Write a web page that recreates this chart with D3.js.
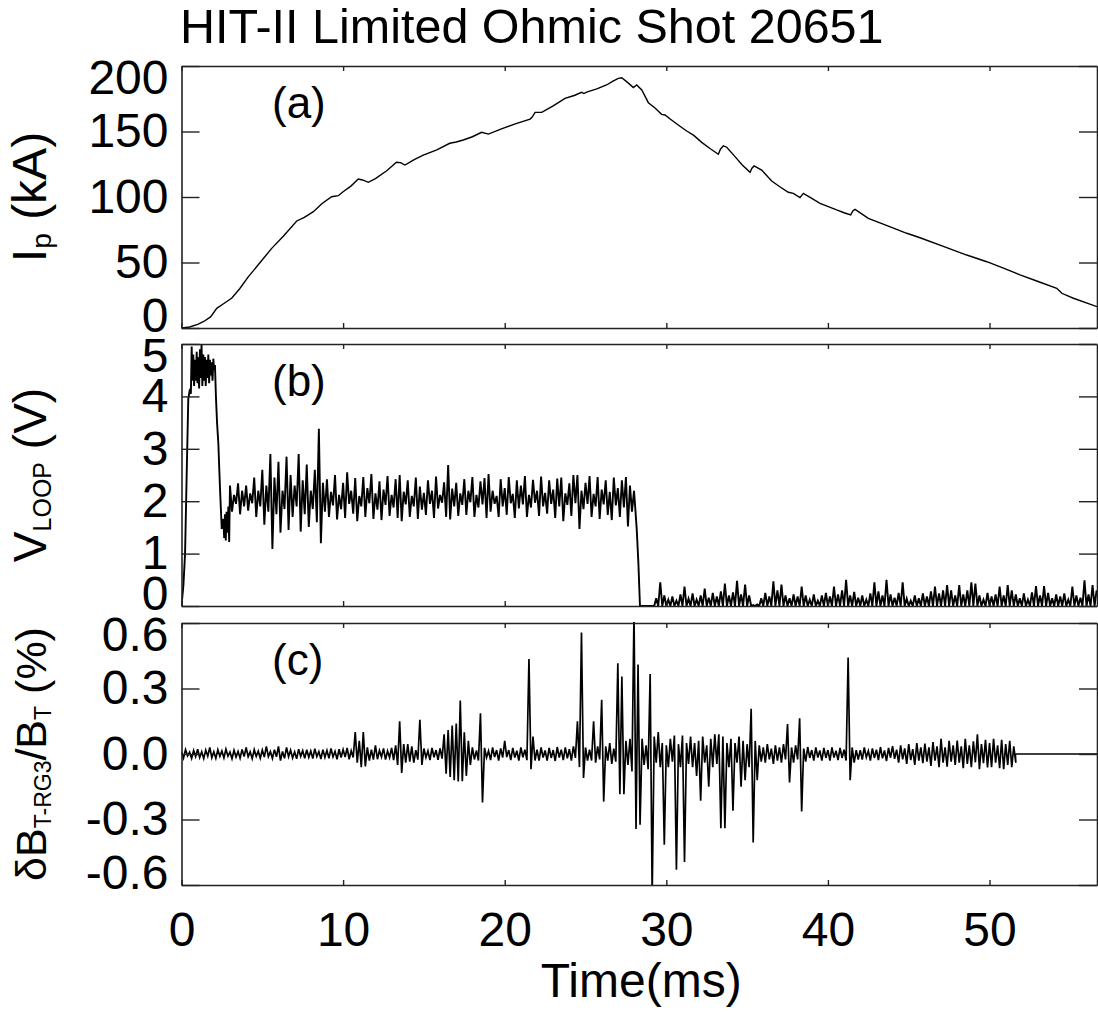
<!DOCTYPE html>
<html>
<head>
<meta charset="utf-8">
<script src="https://cdn.jsdelivr.net/npm/d3@7"></script>
<style>
  body { margin: 0; background: #fff; }
  text { font-family: "Liberation Sans", Arial, Helvetica, sans-serif; fill: #000; }
</style>
</head>
<body>
<div id="chart"></div>
<script>
// ---------------- data ----------------
var titleText = 'HIT-II Limited Ohmic Shot 20651';
var timeTicks = [0, 10, 20, 30, 40, 50];
var ipTicks = [0, 50, 100, 150, 200];
var vloopTicks = [0, 1, 2, 3, 4, 5];
var dbTicks = [-0.6, -0.3, 0, 0.3, 0.6];

// plasma current (kA), [time ms, value]
var ipTrace = [
  [0, 0], [0.5, 0.8], [1.0, 2.8], [1.35, 4.8], [1.8, 8.5], [2.18, 15], [2.6, 18.5], [3.1, 22.7], [3.6, 30], [4.13, 39],
  [4.8, 49], [5.58, 60.8], [6.3, 70], [7.13, 81.7], [7.6, 84.5], [8.16, 88.8], [8.7, 95], [9.29, 100.2], [9.7, 101], [10.0, 104],
  [10.5, 108.5], [10.94, 113.7], [11.2, 113], [11.56, 111.2], [12.0, 114], [12.7, 120], [13.3, 126.5], [13.55, 126.2], [13.83, 124.4], [14.4, 128.5],
  [14.96, 132], [15.8, 136], [16.6, 141], [17.0, 142], [17.44, 143.5], [18.0, 146], [18.57, 149.4], [18.99, 148], [19.8, 152], [20.7, 156],
  [21.57, 159.5], [21.7, 161], [21.88, 164.6], [22.29, 164.6], [23.0, 169.5], [23.73, 175.3], [24.3, 177.5], [24.76, 179.9], [24.9, 179], [25.07, 180],
  [25.7, 182.5], [26.3, 185.5], [26.7, 188.5], [27.03, 190.6], [27.24, 191], [27.6, 187.5], [27.96, 183.5], [28.17, 185.5], [28.48, 181.7], [28.89, 172],
  [29.3, 168], [29.71, 163.1], [29.92, 162.6], [30.3, 159], [30.74, 155], [31.26, 150.4], [31.7, 147], [32.19, 141.7], [32.7, 137], [33.22, 132.6],
  [33.35, 136.5], [33.53, 139], [33.74, 138], [34.25, 130.8], [34.7, 124.5], [35.18, 118.9], [35.3, 122], [35.43, 123.7], [35.9, 120.6], [36.52, 112.2],
  [37.0, 108], [37.55, 103.6], [37.86, 102.8], [38.27, 99.5], [38.48, 102.8], [39.0, 99], [39.51, 95.2], [40.54, 90.1], [41.0, 88], [41.41, 86.3],
  [41.55, 89.5], [41.68, 90.6], [42.5, 83.7], [43.7, 78], [44.88, 72.3], [45.7, 68.9], [47.1, 62.5], [48.59, 55.7], [49.83, 50.6], [50.9, 45.5],
  [51.89, 40.5], [52.92, 35.9], [54.16, 30.3], [54.35, 28], [54.47, 26.5], [55.19, 22.7], [56.65, 16.3]
];

// loop voltage (V): breakdown and early peak, [time ms, value]
var vloopStart = [
  [0, 0], [0.12, 0.4], [0.22, 1.0], [0.32, 2.5], [0.42, 3.95], [0.5, 4.1], [0.58, 4.05], [0.63, 4.95], [0.68, 4.3], [0.73, 4.8],
  [0.78, 4.2], [0.84, 4.7], [0.89, 4.3], [0.94, 4.85], [0.99, 4.25], [1.04, 4.75], [1.09, 4.15], [1.14, 4.9], [1.19, 4.35], [1.24, 5.0],
  [1.29, 4.2], [1.35, 4.8], [1.4, 4.3], [1.45, 4.75], [1.5, 4.2], [1.56, 4.7], [1.61, 4.35], [1.66, 4.8], [1.71, 4.25], [1.76, 4.7],
  [1.81, 4.4], [1.86, 4.65], [1.92, 4.3], [1.97, 4.72], [2.02, 4.5], [2.07, 4.6], [2.13, 4.0], [2.2, 3.5], [2.28, 3.1], [2.38, 2.26],
  [2.49, 1.47], [2.59, 1.66], [2.64, 1.3], [2.69, 1.75], [2.74, 1.25], [2.79, 1.8], [2.85, 1.4], [2.9, 1.9], [2.95, 1.22]
];
// flat-top noise, max / min in 0.25 ms bins starting at 3.0 ms
var binWidth = 0.25;
var vloopNoiseStart = 3.0;
var vloopHi = [
  2.3, 2.12, 2.34, 2.2, 2.3, 2.15,
  2.45, 2.2, 2.6, 2.3, 2.9, 2.45, 2.75, 2.2, 2.85, 2.5, 2.3, 2.9, 2.4, 2.7, 2.2, 2.6, 3.38, 2.35,
  2.42, 2.18, 2.5, 2.12, 2.35, 2.55, 2.2, 2.44,
  2.1, 2.46, 2.25, 2.52, 2.15, 2.38, 2.22, 2.48,
  2.12, 2.42, 2.5, 2.18, 2.4, 2.1, 2.45, 2.28,
  2.16, 2.4, 2.2, 2.47, 2.12, 2.36, 2.69, 2.24,
  2.35, 2.15, 2.42, 2.2, 2.46, 2.12, 2.38, 2.44,
  2.52, 2.2, 2.1, 2.42, 2.25, 2.46, 2.14, 2.4,
  2.3, 2.48, 2.12, 2.41, 2.2, 2.47, 2.16, 2.4,
  2.22, 2.43, 2.45, 2.15, 2.34, 2.5, 2.5, 2.2,
  2.35, 2.48, 2.14, 2.46, 2.22, 2.4, 2.18, 2.45,
  2.25, 2.4, 2.46, 2.3
];
var vloopLo = [
  1.8, 1.95, 1.75, 1.9, 1.82, 1.96,
  1.7, 1.9, 1.55, 1.8, 1.09, 1.75, 1.4, 1.85, 1.45, 1.7, 1.9, 1.42, 1.75, 1.51, 1.85, 1.6, 1.2, 1.8,
  1.7, 1.92, 1.65, 1.85, 1.68, 1.95, 1.76, 1.62,
  1.9, 1.7, 1.96, 1.66, 1.84, 1.64, 1.93, 1.72,
  1.88, 1.68, 1.62, 1.94, 1.7, 1.9, 1.66, 1.84,
  1.74, 1.95, 1.68, 1.86, 1.97, 1.7, 1.65, 1.9,
  1.72, 1.93, 1.74, 1.98, 1.7, 1.88, 1.94, 1.68,
  1.8, 1.95, 1.7, 1.9, 1.74, 1.96, 1.68, 1.86,
  1.94, 1.7, 1.88, 1.97, 1.72, 1.9, 1.76, 1.95,
  1.68, 1.9, 1.62, 1.93, 1.72, 1.96, 1.47, 1.85,
  1.95, 1.7, 1.9, 1.66, 1.94, 1.74, 1.64, 1.92,
  1.7, 1.88, 1.52, 1.8
];
// collapse of the loop voltage, [time ms, value]
var vloopDrop = [[28.0, 2.2], [28.06, 1.95], [28.17, 1.46], [28.27, 0.83], [28.37, 0], [29.1, 0]];
// after 29 ms: peaks of the small noise above zero, 0.25 ms bins from 29.25 ms
var vloopTailStart = 29.25;
var vloopTailHi = [
  0.15, 0.45, 0.2, 0.12, 0.18, 0.1, 0.22, 0.37, 0.14, 0.24,
  0.12, 0.2, 0.33, 0.16, 0.25, 0.18, 0.28, 0.43, 0.2, 0.26,
  0.48, 0.22, 0.41, 0.2, 0.02, 0.03, 0.15, 0.25, 0.18, 0.47,
  0.3, 0.41, 0.2, 0.15, 0.22, 0.18, 0.37, 0.2, 0.12, 0.22,
  0.1, 0.2, 0.25, 0.18, 0.37, 0.22, 0.3, 0.5, 0.2, 0.27,
  0.16, 0.2, 0.12, 0.24, 0.45, 0.28, 0.2, 0.5, 0.22, 0.16,
  0.25, 0.45, 0.14, 0.1, 0.2, 0.15, 0.24, 0.18, 0.28, 0.37,
  0.24, 0.3, 0.4, 0.3, 0.2, 0.4, 0.22, 0.3, 0.45, 0.43,
  0.2, 0.12, 0.25, 0.18, 0.22, 0.37, 0.2, 0.4, 0.3, 0.22,
  0.15, 0.24, 0.12, 0.26, 0.38, 0.2, 0.38, 0.25, 0.15, 0.22,
  0.18, 0.24, 0.12, 0.37, 0.2, 0.16, 0.49, 0.22, 0.4, 0.3
];

// dB_T-RG3/B_T (%), max / min in 0.25 ms bins from 0 ms
var dbHi = [
  .012, .02, .008, .016, .022, .01, .018, .03,
  .01, .019, .014, .022, .009, .017, .012, .021,
  .03, .01, .02, .013, .018, .035, .011, .02,
  .035, .012, .03, .018, .01, .022, .015, .02,
  .014, .024, .011, .02, .016, .026, .012, .022,
  .02, .028, .015, .10, .06, .10, .03, .02,
  .04, .016, .026, .014, .028, .04, .15, .045,
  .045, .035, .018, .157, .025, .014, .028, .018,
  .026, .09, .11, .13, .14, .245, .10, .06,
  .03, .016, .187, .028, .014, .03, .018, .026,
  .06, .018, .028, .015, .03, .02, .435, .08,
  .02, .03, .016, .028, .018, .032, .02, .03,
  .022, .035, .15, .557, .03, .02, .15, .035,
  .248, .035, .05, .025, .416, .355, .06, .07,
  .65, .41, .07, .04, .366, .08, .10, .05,
  .04, .07, .085, .045, .085, .05, .08, .05,
  .06, .08, .04, .07, .09, .09, .08, .05,
  .07, .05, .08, .06, .045, .207, .06, .04,
  .03, .045, .025, .04, .03, .045, .137, .03,
  .04, .164, .025, .032, .018, .03, .016, .028,
  .018, .03, .015, .028, .02, .442, .03, .018,
  .018, .03, .014, .026, .02, .032, .016, .028,
  .036, .02, .04, .026, .045, .022, .05, .03,
  .048, .03, .055, .035, .07, .03, .06, .04,
  .062, .035, .07, .04, .058, .09, .045, .065,
  .05, .07, .04, .065, .045, .06, .035
];
var dbLo = [
  -.018, -.009, -.02, -.012, -.016, -.021, -.01, -.017,
  -.02, -.011, -.018, -.01, -.022, -.014, -.019, -.012,
  -.012, -.021, -.011, -.019, -.014, -.012, -.02, -.013,
  -.03, -.02, -.012, -.018, -.022, -.011, -.02, -.015,
  -.021, -.012, -.023, -.015, -.02, -.013, -.024, -.016,
  -.014, -.024, -.016, -.04, -.06, -.057, -.03, -.026,
  -.024, -.014, -.026, -.016, -.028, -.05, -.087, -.04,
  -.035, -.04, -.026, -.05, -.016, -.028, -.015, -.027,
  -.021, -.09, -.105, -.12, -.126, -.125, -.1, -.05,
  -.025, -.03, -.222, -.016, -.028, -.014, -.03, -.016,
  -.014, -.028, -.016, -.03, -.015, -.028, -.07, -.03,
  -.03, -.016, -.03, -.018, -.032, -.016, -.028, -.02,
  -.03, -.018, -.06, -.11, -.03, -.03, -.04, -.025,
  -.218, -.03, -.045, -.035, -.184, -.184, -.05, -.08,
  -.343, -.324, -.05, -.07, -.65, -.04, -.06, -.416,
  -.06, -.035, -.53, -.06, -.495, -.045, -.06, -.1,
  -.214, -.04, -.15, -.06, -.045, -.34, -.34, -.06,
  -.26, -.04, -.15, -.12, -.06, -.405, -.12, -.035,
  -.04, -.025, -.045, -.03, -.04, -.025, -.13, -.04,
  -.025, -.263, -.035, -.018, -.03, -.016, -.03, -.018,
  -.03, -.016, -.028, -.018, -.03, -.12, -.04, -.026,
  -.026, -.015, -.03, -.018, -.028, -.02, -.032, -.017,
  -.022, -.04, -.025, -.045, -.028, -.05, -.03, -.042,
  -.035, -.055, -.03, -.06, -.04, -.058, -.035, -.05,
  -.04, -.065, -.045, -.06, -.038, -.07, -.042, -.062,
  -.06, -.04, -.065, -.07, -.05, -.06, -.04
];
// probe signal is flat after the digitizer window ends
var dbEnd = [[51.6, 0], [56.65, 0]];

// ---------------- layout ----------------
var W = 1098, H = 1012;
var left = 181.5, right = 1097;
var fontSize = 48;

var svg = d3.select('#chart')
    .append('svg')
    .attr('width', W)
    .attr('height', H);

var x = d3.scaleLinear().domain([0, 56.65]).range([left, right]);

// turn max/min bins into a zig-zag trace
function binsToPoints(start, hi, lo) {
    var pts = [];
    hi.forEach(function (h, i) {
        var t0 = start + i * binWidth;
        pts.push([t0, h]);
        pts.push([t0 + binWidth / 2, lo[i]]);
    });
    return pts;
}

var vloopTrace = vloopStart
    .concat(binsToPoints(vloopNoiseStart, vloopHi, vloopLo))
    .concat(vloopDrop);
vloopTailHi.forEach(function (h, i) {
    var t0 = vloopTailStart + i * binWidth;
    vloopTrace.push([t0, 0]);
    vloopTrace.push([t0 + binWidth / 2, h]);
});

var dbTrace = binsToPoints(0, dbHi, dbLo).concat(dbEnd);

var panels = [
    { id: 'a', top: 66, bottom: 328, domain: [0, 200], ticks: ipTicks, fmt: d3.format('d'),
      data: ipTrace, width: 1.4, letter: '(a)' },
    { id: 'b', top: 344, bottom: 606, domain: [0, 5], ticks: vloopTicks, fmt: d3.format('d'),
      data: vloopTrace, width: 1.9, letter: '(b)' },
    { id: 'c', top: 623, bottom: 885, domain: [-0.6, 0.6], ticks: dbTicks,
      fmt: function (d) { return d.toFixed(1); }, data: dbTrace, width: 1.7, letter: '(c)' }
];

var defs = svg.append('defs');

panels.forEach(function (p, pi) {
    var y = d3.scaleLinear().domain(p.domain).range([p.bottom, p.top]);
    var g = svg.append('g').attr('class', 'panel-' + p.id);

    defs.append('clipPath')
        .attr('id', 'clip-' + p.id)
        .append('rect')
        .attr('x', left)
        .attr('y', p.top - 1)
        .attr('width', right - left)
        .attr('height', p.bottom - p.top + 2);

    var line = d3.line()
        .x(function (d) { return x(d[0]); })
        .y(function (d) { return y(d[1]); });

    g.append('path')
        .datum(p.data)
        .attr('clip-path', 'url(#clip-' + p.id + ')')
        .attr('d', line)
        .style('fill', 'none')
        .style('stroke', '#000')
        .style('stroke-width', p.width);

    // left axis with labels, inward ticks
    var gl = g.append('g')
        .attr('transform', 'translate(' + left + ',0)')
        .call(d3.axisLeft(y).tickValues(p.ticks).tickFormat(p.fmt)
            .tickSize(-18).tickSizeOuter(0).tickPadding(13));
    // end labels sit inside the frame
    gl.selectAll('.tick text')
        .attr('dy', function (d) {
            if (d === p.domain[1]) return '0.57em';
            if (d === p.domain[0]) return '0.07em';
            return '0.32em';
        });

    g.append('g')
        .attr('transform', 'translate(' + right + ',0)')
        .call(d3.axisRight(y).tickValues(p.ticks).tickFormat('')
            .tickSize(-18).tickSizeOuter(0));

    g.append('g')
        .attr('transform', 'translate(0,' + p.top + ')')
        .call(d3.axisTop(x).tickValues(timeTicks).tickFormat('')
            .tickSize(-5).tickSizeOuter(0));

    var last = pi === panels.length - 1;
    g.append('g')
        .attr('transform', 'translate(0,' + p.bottom + ')')
        .call(d3.axisBottom(x).tickValues(timeTicks)
            .tickFormat(last ? d3.format('d') : '')
            .tickSize(-5).tickSizeOuter(0).tickPadding(27));

    g.append('text')
        .attr('x', 272)
        .attr('y', p.top + 52)
        .style('font-size', '44px')
        .text(p.letter);
});

svg.selectAll('.domain')
    .style('stroke', '#222')
    .style('stroke-width', 1.6);
svg.selectAll('.tick line')
    .style('stroke', '#222')
    .style('stroke-width', 1.4);
svg.selectAll('.tick text')
    .style('font-size', fontSize + 'px')
    .style('fill', '#000');
svg.selectAll('g[font-family]').attr('font-family', null).attr('font-size', null);

// title and axis titles
svg.append('text')
    .attr('x', 180)
    .attr('y', 43)
    .style('font-size', '48.5px')
    .text(titleText);

svg.append('text')
    .attr('x', (left + right) / 2 + 2)
    .attr('y', 997)
    .attr('text-anchor', 'middle')
    .style('font-size', fontSize + 'px')
    .text('Time(ms)');

function yTitle(cy, parts, size, subSize) {
    var t = svg.append('text')
        .attr('transform', 'translate(46,' + cy + ') rotate(-90)')
        .attr('text-anchor', 'middle')
        .style('font-size', size + 'px');
    var shifted = false;
    parts.forEach(function (part) {
        var s = t.append('tspan').text(part[0]);
        if (part[1]) {
            s.style('font-size', subSize + 'px').attr('dy', shifted ? 0 : 5);
            shifted = true;
        } else if (shifted) {
            s.attr('dy', -5);
            shifted = false;
        }
    });
}

yTitle((panels[0].top + panels[0].bottom) / 2, [['I'], ['p', true], [' (kA)']], 48, 28);
yTitle((panels[1].top + panels[1].bottom) / 2, [['V'], ['LOOP', true], [' (V)']], 46, 25);
yTitle((panels[2].top + panels[2].bottom) / 2,
    [['\u03b4B'], ['T-RG3', true], ['/B'], ['T', true], [' (%)']], 43, 23);
</script>
</body>
</html>
